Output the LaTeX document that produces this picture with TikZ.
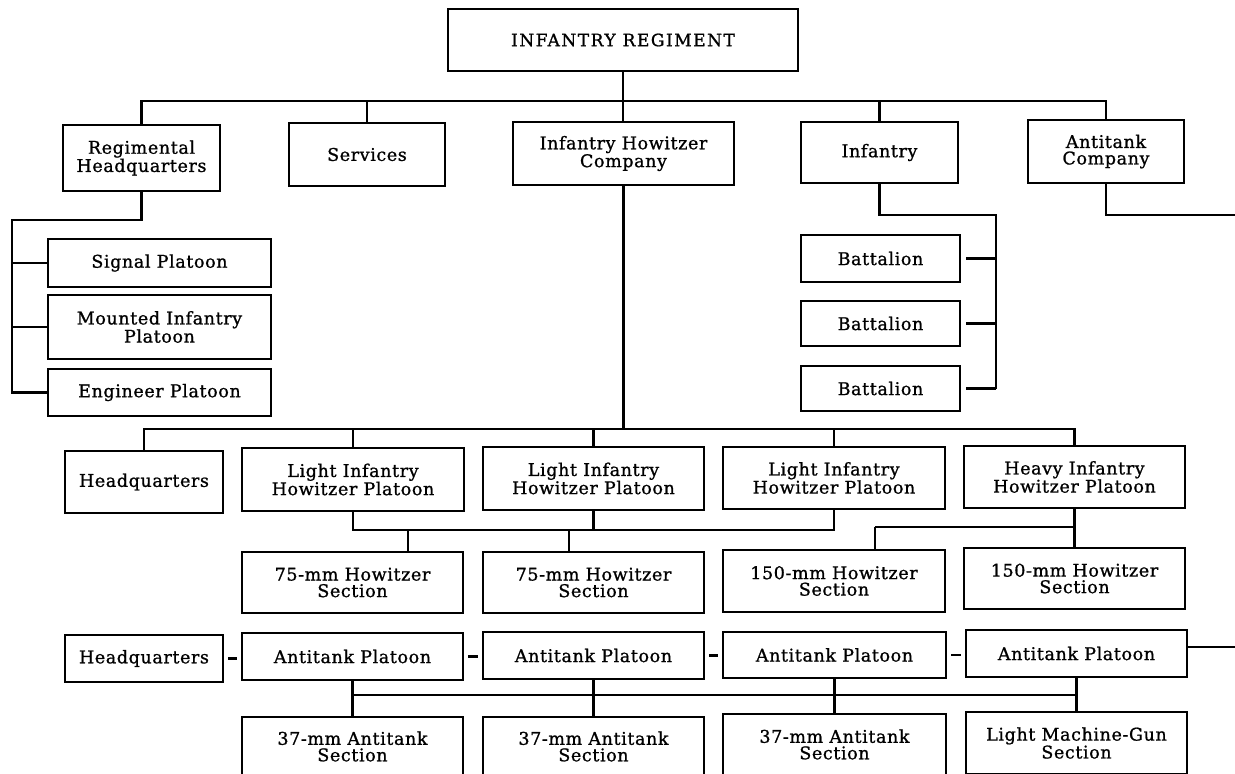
\documentclass[tikz,border=0pt]{standalone}
\usepackage{fontspec}
\setmainfont{DejaVu Serif}
\newfontfamily\boxfont[LetterSpace=3.5,FakeBold=1]{DejaVu Serif}
\newfontfamily\titlefont[LetterSpace=9,FakeBold=1]{DejaVu Serif}
\newcommand{\orgbox}[6]{%
 \pgfmathsetmacro{\obcx}{(#2+#3)/2}%
 \pgfmathsetmacro{\obcy}{(#4+#5)/2}%
 \pgfmathsetmacro{\obw}{#3-#2}%
 \pgfmathsetmacro{\obh}{#5-#4}%
 \node[box, minimum width=\obw pt, minimum height=\obh pt] (#1) at (\obcx,\obcy) {#6};}
\begin{document}
\begin{tikzpicture}[x=1pt,y=-1pt,
  box/.style={draw, line width=2.4pt, inner sep=0pt, align=center, font=\boxfont\fontsize{17.5}{16.5}\selectfont},
  ln/.style={line width=2.4pt},
  gap/.style={ln, shorten >=4pt, shorten <=4pt}]
\useasboundingbox (0,0) rectangle (1235,774);
\clip (0,0) rectangle (1235,774);
% row 1
\orgbox{top}{448}{798}{9}{71}{\titlefont\fontsize{17}{17}\selectfont INFANTRY REGIMENT}
% row 2
\orgbox{reghq}{63}{220}{125}{191}{Regimental\\Headquarters}
\orgbox{services}{289}{445}{123}{186}{Services}
\orgbox{ihc}{513}{734}{122}{185}{Infantry Howitzer\\Company}
\orgbox{inf}{801}{958}{122}{183}{Infantry}
\orgbox{atco}{1028}{1184}{120}{183}{Antitank\\Company}
% left column
\orgbox{sig}{48}{271}{239}{287}{Signal Platoon}
\orgbox{mip}{48}{271}{295}{359}{Mounted Infantry\\Platoon}
\orgbox{eng}{48}{271}{369}{416}{Engineer Platoon}
% battalions
\orgbox{bat1}{801}{960}{235}{282}{Battalion}
\orgbox{bat2}{801}{960}{301}{346}{Battalion}
\orgbox{bat3}{801}{960}{366}{411}{Battalion}
% row 3
\orgbox{hq1}{65}{223}{451}{513}{Headquarters}
\orgbox{lihp1}{242}{464}{448}{511}{Light Infantry\\Howitzer Platoon}
\orgbox{lihp2}{483}{704}{447}{510}{Light Infantry\\Howitzer Platoon}
\orgbox{lihp3}{723}{945}{447}{509}{Light Infantry\\Howitzer Platoon}
\orgbox{hihp}{964}{1185}{446}{508}{Heavy Infantry\\Howitzer Platoon}
% row 4
\orgbox{h75a}{242}{463}{552}{613}{75-mm Howitzer\\Section}
\orgbox{h75b}{483}{704}{552}{613}{75-mm Howitzer\\Section}
\orgbox{h150a}{723}{945}{550}{612}{150-mm Howitzer\\Section}
\orgbox{h150b}{964}{1185}{548}{609}{150-mm Howitzer\\Section}
% row 5
\orgbox{hq2}{65}{223}{635}{682}{Headquarters}
\orgbox{at1}{242}{463}{633}{680}{Antitank Platoon}
\orgbox{at2}{483}{704}{632}{679}{Antitank Platoon}
\orgbox{at3}{723}{946}{632}{678}{Antitank Platoon}
\orgbox{at4}{966}{1187}{630}{677}{Antitank Platoon}
% row 6
\orgbox{s1}{242}{463}{717}{776}{37-mm Antitank\\Section}
\orgbox{s2}{483}{704}{717}{776}{37-mm Antitank\\Section}
\orgbox{s3}{723}{946}{714}{775}{37-mm Antitank\\Section}
\orgbox{lmg}{966}{1187}{712}{774}{Light Machine-Gun\\Section}
% connectors: top level
\coordinate (b1) at (0,101);
\draw[ln] (top.south) -- (top.south |- ihc.north);
\draw[ln] (reghq.north) -- (reghq.north |- b1) -- (atco.north |- b1) -- (atco.north);
\foreach \n in {services,inf} \draw[ln] (\n.north) -- (\n.north |- b1);
% regimental HQ column
\coordinate (lx) at (12,220);
\draw[ln] (reghq.south) |- (lx) -- (lx |- eng.west) -- (eng.west);
\draw[ln] (sig.west) -- (sig.west -| lx);
\draw[ln] (mip.west) -- (mip.west -| lx);
% infantry battalions
\coordinate (ix) at (996,215);
\draw[ln] (inf.south) |- (ix) -- (ix |- bat3.east);
\foreach \n in {bat1,bat2,bat3} \draw[ln, shorten >=5pt] (ix |- \n.east) -- (\n.east);
% antitank company
\coordinate (ax) at (1235,215);
\draw[ln] (atco.south) |- (ax);
% infantry howitzer company
\coordinate (b3) at (0,429);
\draw[ln] (ihc.south) -- (ihc.south |- b3);
\draw[ln] (hq1.north) -- (hq1.north |- b3) -- (hihp.north |- b3) -- (hihp.north);
\foreach \n in {lihp1,lihp2,lihp3} \draw[ln] (\n.north) -- (\n.north |- b3);
% howitzer sections
\coordinate (b4) at (0,530);
\draw[ln] (lihp1.south) -- (lihp1.south |- b4) -- (lihp3.south |- b4) -- (lihp3.south);
\draw[ln] (lihp2.south) -- (lihp2.south |- b4);
\coordinate (t1) at (408,530);
\coordinate (t2) at (569,530);
\draw[ln] (t1) -- (t1 |- h75a.north);
\draw[ln] (t2) -- (t2 |- h75b.north);
\coordinate (t3) at (875,527);
\draw[ln] (hihp.south) -- (hihp.south |- h150b.north);
\draw[ln] (t3) -- (hihp.south |- t3);
\draw[ln] (t3) -- (t3 |- h150a.north);
% antitank platoons
\draw[gap] (hq2.east) -- (hq2.east -| at1.west);
\draw[gap] (at1.east) -- (at1.east -| at2.west);
\draw[gap] (at2.east) -- (at2.east -| at3.west);
\draw[gap] (at3.east) -- (at3.east -| at4.west);
\coordinate (ex) at (1235,647);
\draw[ln] (at4.east |- ex) -- (ex);
\coordinate (b5) at (0,695);
\draw[ln] (at1.south |- b5) -- (at4.south |- b5);
\foreach \a/\s in {at1/s1,at2/s2,at3/s3,at4/lmg} \draw[ln] (\a.south) -- (\a.south |- \s.north);
\end{tikzpicture}
\end{document}
